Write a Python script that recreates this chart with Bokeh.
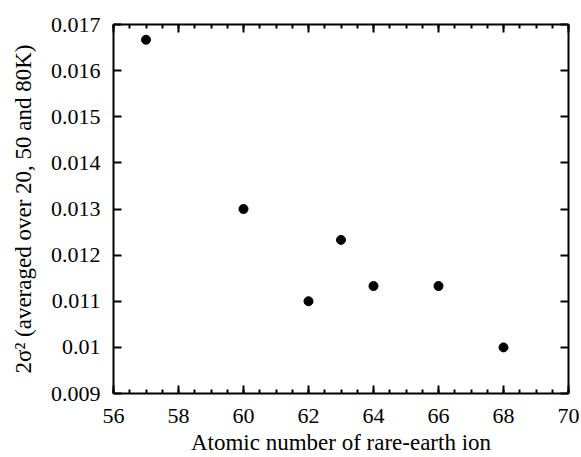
from bokeh.plotting import figure
from bokeh.models import LinearAxis, Range1d, FixedTicker, CustomJSTickFormatter
from bokeh.embed import file_html
from bokeh.resources import INLINE

atomic_number = [57, 60, 62, 63, 64, 66, 68]
two_sigma_sq = [0.01667, 0.0130, 0.0110, 0.01233, 0.01133, 0.01133, 0.0100]
x_ticks = [56, 58, 60, 62, 64, 66, 68, 70]
x_minor = [56 + 0.5 * i for i in range(29)]
y_ticks = [0.009, 0.010, 0.011, 0.012, 0.013, 0.014, 0.015, 0.016, 0.017]

FONT = "Liberation Serif"
FS_TICK = "22px"
FS_LABEL = "23px"

p = figure(width=580, height=457, output_backend="svg", toolbar_location=None,
           x_range=Range1d(56, 70), y_range=Range1d(0.009, 0.017),
           x_axis_location=None, y_axis_location=None,
           min_border_left=113, min_border_right=12, min_border_top=24, min_border_bottom=63)
p.xgrid.visible = False
p.ygrid.visible = False
p.outline_line_color = None
p.background_fill_color = "white"
p.border_fill_color = "white"

ylab_fmt = CustomJSTickFormatter(code="""
var s = tick.toFixed(3);
if (s.endsWith('0')) { s = s.replace(/0+$/, ''); }
return s;
""")
blank_fmt = CustomJSTickFormatter(code="return '';")

def style(ax, labels=True):
    ax.axis_line_width = 2
    ax.axis_line_color = "black"
    ax.major_tick_in = 8
    ax.major_tick_out = 0
    ax.minor_tick_in = 4
    ax.minor_tick_out = 0
    ax.major_tick_line_width = 2
    ax.minor_tick_line_width = 2
    ax.major_tick_line_color = "black"
    ax.minor_tick_line_color = "black"
    if labels:
        ax.major_label_text_font = FONT
        ax.major_label_text_font_size = FS_TICK
        ax.major_label_text_color = "black"
        ax.major_label_text_line_height = 1.0
        ax.axis_label_text_font = FONT
        ax.axis_label_text_font_size = FS_LABEL
        ax.axis_label_text_font_style = "normal"
        ax.axis_label_text_color = "black"
        ax.axis_label_text_line_height = 1.0
    else:
        ax.formatter = blank_fmt
        ax.major_label_standoff = 0

xb = LinearAxis(ticker=FixedTicker(ticks=x_ticks, minor_ticks=x_minor),
                axis_label="Atomic number of rare-earth ion")
style(xb)
xb.major_label_standoff = 15
xb.axis_label_standoff = 4
p.add_layout(xb, "below")

xt = LinearAxis(ticker=FixedTicker(ticks=x_ticks, minor_ticks=x_minor))
style(xt, labels=False)
p.add_layout(xt, "above")

yl = LinearAxis(ticker=FixedTicker(ticks=y_ticks, minor_ticks=[]),
                formatter=ylab_fmt,
                axis_label="2σ² (averaged over 20, 50 and 80K)")
style(yl)
yl.minor_tick_in = 0
yl.major_label_standoff = 13
yl.axis_label_standoff = 12
p.add_layout(yl, "left")

yr = LinearAxis(ticker=FixedTicker(ticks=y_ticks, minor_ticks=[]))
style(yr, labels=False)
yr.minor_tick_in = 0
p.add_layout(yr, "right")

p.scatter(atomic_number, two_sigma_sq, size=9, color="black")

open("out.html", "w").write(file_html(p, INLINE))
